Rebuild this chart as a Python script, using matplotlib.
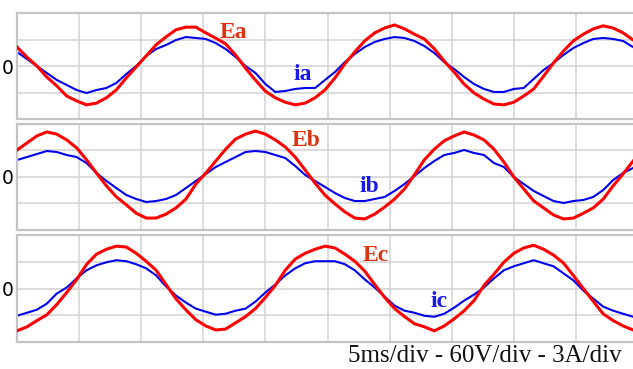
import matplotlib
matplotlib.use("Agg")
import matplotlib.pyplot as plt

# time base (ms), 5 ms/div
t_ms = [0.0, 0.8, 1.6, 2.4, 3.2, 4.0, 4.8, 5.6, 6.4, 7.2, 8.0, 8.8, 9.6, 10.4, 11.2, 12.0,
        12.8, 13.6, 14.4, 15.2, 16.0, 16.8, 17.6, 18.4, 19.2, 20.0, 20.8, 21.6, 22.4, 23.2,
        24.0, 24.8, 25.6, 26.4, 27.2, 28.0, 28.8, 29.6, 30.4, 31.2, 32.0, 32.8, 33.6, 34.4,
        35.2, 36.0, 36.8, 37.6, 38.4, 39.2, 40.0, 40.8, 41.6, 42.4, 43.2, 44.0, 44.8, 45.6,
        46.4, 47.2, 48.0, 48.8, 49.6, 50.4]

# phase voltages (V), 60 V/div
ea_v = [43, 20, 0, -25, -45, -68, -79, -88, -84, -72, -54, -27, -2, 23, 48, 66,
        82, 88, 88, 75, 63, 50, 25, -5, -32, -57, -72, -82, -88, -84,
        -72, -54, -27, 5, 32, 57, 75, 86, 93, 84, 72, 61, 39, 11,
        -14, -41, -61, -75, -86, -88, -82, -68, -52, -23, 7, 34, 57, 72,
        84, 91, 86, 75, 59, 43]
eb_v = [61, 77, 93, 102, 97, 84, 66, 39, 9, -20, -45, -63, -82, -93, -93, -84,
        -70, -50, -16, 9, 36, 63, 86, 97, 104, 97, 84, 68, 45, 16,
        -14, -41, -61, -79, -93, -95, -84, -68, -50, -27, 5, 39, 63, 82,
        93, 102, 95, 84, 63, 34, 0, -27, -54, -70, -86, -95, -93, -82,
        -70, -50, -20, 7, 36, 61]
ec_v = [-95, -86, -72, -59, -36, -9, 20, 54, 77, 88, 95, 93, 79, 61, 41, 9,
        -23, -48, -70, -84, -93, -91, -77, -63, -45, -20, 7, 41, 66, 79,
        88, 95, 91, 77, 61, 39, 9, -20, -45, -63, -79, -86, -95, -84,
        -68, -50, -27, 7, 32, 59, 79, 91, 97, 88, 75, 57, 29, 0,
        -29, -57, -72, -84, -93, -97]

# phase currents (A), 3 A/div
ia_a = [1.58, 0.79, 0.0, -0.79, -1.58, -2.15, -2.72, -3.06, -2.72, -2.49, -1.92, -0.91, 0.0, 1.13, 1.92, 2.38,
        2.94, 3.28, 3.17, 3.06, 2.60, 1.92, 1.02, 0.0, -0.79, -2.04, -2.94, -2.83, -2.60, -2.49,
        -2.49, -1.58, -0.68, 0.45, 1.36, 2.15, 2.72, 3.06, 3.28, 3.17, 2.83, 2.26, 1.47, 0.45,
        -0.34, -1.25, -2.04, -2.60, -2.94, -2.94, -2.60, -2.49, -1.47, -0.45, 0.34, 1.25, 2.04, 2.60,
        3.06, 3.17, 3.06, 2.83, 2.15, 1.58]
ib_a = [1.92, 2.26, 2.60, 2.94, 2.83, 2.49, 2.26, 1.58, 0.45, -0.45, -1.25, -2.04, -2.49, -2.83, -2.72, -2.49,
        -2.04, -1.25, -0.45, 0.34, 1.13, 1.70, 2.26, 2.83, 2.94, 2.83, 2.49, 2.15, 1.25, 0.23,
        -0.45, -1.13, -1.81, -2.38, -2.72, -2.72, -2.49, -2.26, -1.58, -0.79, 0.11, 1.02, 1.81, 2.49,
        2.72, 3.06, 2.72, 2.49, 1.58, 1.13, 0.0, -0.79, -1.58, -2.15, -2.72, -2.94, -2.72, -2.60,
        -2.26, -1.47, -0.34, 0.45, 1.02, 1.70]
ic_a = [-3.06, -2.72, -2.38, -1.70, -0.57, 0.11, 1.13, 2.04, 2.60, 2.94, 3.17, 3.06, 2.72, 2.26, 1.47, 0.23,
        -0.79, -1.58, -2.26, -2.60, -2.94, -2.83, -2.49, -2.26, -1.47, -0.45, 0.45, 1.47, 2.26, 2.83,
        3.06, 3.06, 3.06, 2.72, 2.04, 1.02, 0.11, -0.91, -1.92, -2.49, -2.72, -3.06, -3.17, -2.83,
        -2.15, -1.36, -0.68, 0.11, 1.13, 2.04, 2.49, 2.83, 3.17, 2.83, 2.49, 1.70, 0.91, -0.23,
        -1.13, -2.04, -2.49, -2.83, -3.17, -3.28]

v_labels = ["Ea", "Eb", "Ec"]
i_labels = ["ia", "ib", "ic"]
x_ticks = [5, 10, 15, 20, 25, 30, 35, 40, 45]
caption = "5ms/div - 60V/div - 3A/div"

W, H = 633, 369
fig = plt.figure(figsize=(W / 100, H / 100), dpi=100)

# panel boxes in pixels: (top, bottom)
panels = [(13, 119), (124, 230), (235, 342)]
left_px, right_px = 17, 638
# label positions in pixels (x left, baseline y)
vlab_pos = [(220, 38), (292, 146), (363, 261)]
ilab_pos = [(293, 80), (359, 192), (430, 307)]

volt_series = [ea_v, eb_v, ec_v]
curr_series = [ia_a, ib_a, ic_a]

grid_c = "#d2d2d2"
spine_c = "#c4c4c4"
red = "#ff0000"
blue = "#0000ee"
lab_red = "#dd3311"
lab_blue = "#1a1ae6"

for i, (top, bot) in enumerate(panels):
    rect = [left_px / W, 1 - bot / H, (right_px - left_px) / W, (bot - top) / H]
    ax = fig.add_axes(rect)
    ax.set_xlim(0, 50)
    ax.set_ylim(-6, 6)
    ax.set_xticks(x_ticks)
    ax.set_xticklabels([])
    ax.set_yticks([-3, 0, 3])
    ax.set_yticklabels(["", "0", ""], fontsize=13.5, family="DejaVu Sans")
    ax.tick_params(length=0, pad=2.6)
    ax.grid(True, color=grid_c, lw=1.1)
    ax.set_axisbelow(True)
    for s in ax.spines.values():
        s.set_color(spine_c)
        s.set_linewidth(1.6)
    ax.plot(t_ms, curr_series[i], color=blue, lw=1.5, zorder=2)

    ax2 = ax.twinx()
    ax2.set_ylim(-120, 120)
    ax2.set_axis_off()
    ax2.plot(t_ms, volt_series[i], color=red, lw=2.2, zorder=3)

    vx, vy = vlab_pos[i]
    fig.text(vx / W, 1 - vy / H, v_labels[i], color=lab_red, fontsize=17,
             family="Liberation Serif", weight="bold", ha="left", va="baseline")
    ix, iy = ilab_pos[i]
    fig.text(ix / W, 1 - iy / H, i_labels[i], color=lab_blue, fontsize=17,
             family="Liberation Serif", weight="bold", ha="left", va="baseline")

fig.text(622 / W, 1 - 362.5 / H, caption, fontsize=18, family="Liberation Serif",
         color="#111111", ha="right", va="baseline")

fig.savefig("out.png", dpi=100)
